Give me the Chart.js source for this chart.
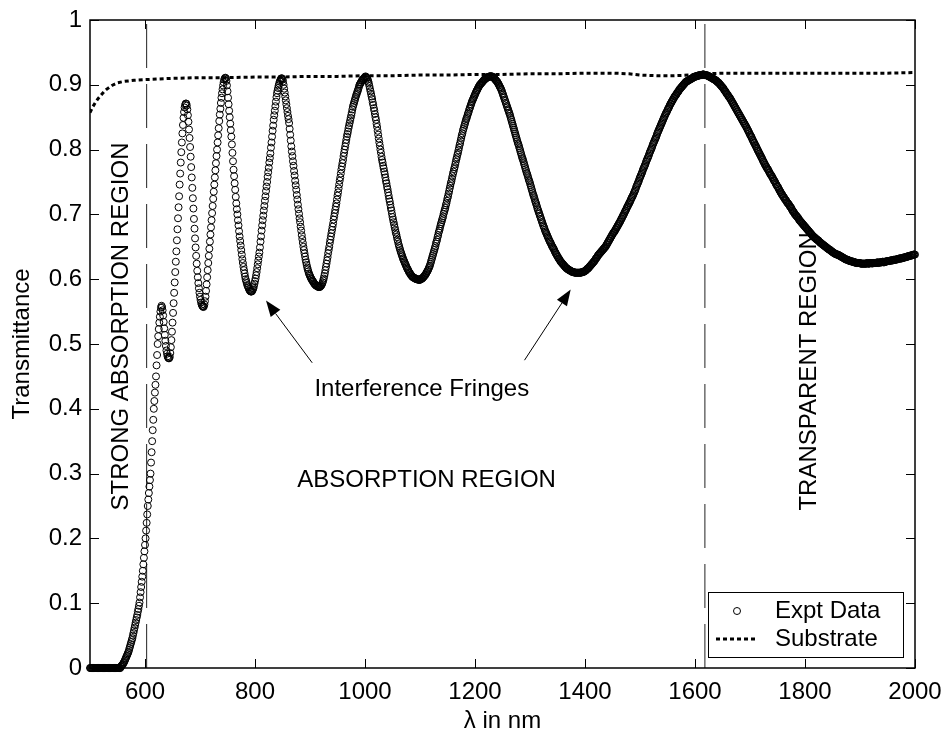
<!DOCTYPE html>
<html>
<head>
<meta charset="utf-8">
<script src="https://cdn.jsdelivr.net/npm/chart.js@4.4.1/dist/chart.umd.min.js"></script>
<style>
  html, body { margin: 0; padding: 0; background: #fff; }
  canvas { display: block; }
</style>
</head>
<body>
<canvas id="chart" width="945" height="736"></canvas>
<script>
// Measured film transmittance, one value per nm from 500 nm to 2000 nm
const START_NM = 500;
const STEP_NM = 1;
const transmittance = [
  // 500–599
  0,0,0,0,0,0,0,0,0,0,
  0,0,0,0,0,0,0,0,0,0,
  0,0,0,0,0,0,0,0,0,0,
  0,0,0,0,0,0,0,0,0,0,
  0,0,0,0,0,0,0,0,0,0,
  0,0,0,0,0,0,0.002,0.003,0.004,0.005,
  0.006,0.008,0.009,0.011,0.013,0.015,0.017,0.019,0.021,0.023,
  0.025,0.028,0.031,0.034,0.037,0.040,0.043,0.046,0.050,0.054,
  0.058,0.062,0.066,0.070,0.074,0.078,0.082,0.087,0.091,0.096,
  0.101,0.109,0.117,0.125,0.133,0.141,0.150,0.160,0.170,0.180,
  // 600–699
  0.190,0.200,0.212,0.224,0.237,0.250,0.260,0.270,0.280,0.290,
  0.300,0.317,0.333,0.350,0.367,0.383,0.400,0.412,0.425,0.437,
  0.450,0.467,0.483,0.500,0.512,0.523,0.533,0.542,0.550,0.556,
  0.559,0.557,0.552,0.544,0.534,0.524,0.514,0.505,0.497,0.490,
  0.485,0.481,0.479,0.478,0.478,0.480,0.486,0.495,0.506,0.519,
  0.533,0.548,0.563,0.579,0.595,0.611,0.627,0.643,0.660,0.677,
  0.694,0.711,0.728,0.746,0.763,0.780,0.796,0.811,0.825,0.838,
  0.849,0.858,0.865,0.869,0.871,0.871,0.868,0.862,0.853,0.843,
  0.831,0.818,0.804,0.789,0.773,0.757,0.741,0.725,0.709,0.693,
  0.678,0.663,0.649,0.636,0.624,0.613,0.603,0.594,0.586,0.579,
  // 700–799
  0.573,0.568,0.564,0.561,0.559,0.558,0.557,0.558,0.561,0.566,
  0.573,0.582,0.592,0.603,0.614,0.625,0.636,0.647,0.658,0.669,
  0.680,0.691,0.702,0.713,0.724,0.735,0.746,0.757,0.768,0.779,
  0.790,0.800,0.811,0.822,0.833,0.844,0.854,0.863,0.872,0.880,
  0.887,0.893,0.899,0.904,0.908,0.910,0.911,0.910,0.906,0.899,
  0.890,0.880,0.870,0.860,0.850,0.840,0.830,0.820,0.808,0.795,
  0.782,0.769,0.759,0.748,0.738,0.727,0.717,0.708,0.700,0.691,
  0.683,0.674,0.666,0.659,0.652,0.645,0.638,0.631,0.625,0.619,
  0.614,0.609,0.604,0.600,0.597,0.594,0.591,0.589,0.587,0.585,
  0.583,0.582,0.581,0.581,0.581,0.582,0.584,0.586,0.589,0.593,
  // 800–899
  0.597,0.601,0.606,0.611,0.617,0.623,0.629,0.635,0.641,0.649,
  0.658,0.666,0.675,0.683,0.691,0.698,0.706,0.713,0.721,0.728,
  0.736,0.743,0.750,0.758,0.765,0.772,0.780,0.787,0.794,0.803,
  0.811,0.820,0.829,0.837,0.846,0.853,0.860,0.867,0.874,0.881,
  0.887,0.891,0.895,0.899,0.902,0.905,0.907,0.909,0.910,0.910,
  0.908,0.905,0.900,0.894,0.888,0.882,0.876,0.870,0.864,0.858,
  0.852,0.847,0.841,0.832,0.823,0.814,0.805,0.797,0.790,0.782,
  0.775,0.767,0.760,0.752,0.745,0.738,0.730,0.723,0.715,0.708,
  0.701,0.694,0.688,0.681,0.675,0.668,0.662,0.656,0.650,0.645,
  0.640,0.635,0.630,0.626,0.622,0.618,0.615,0.612,0.609,0.607,
  // 900–999
  0.605,0.603,0.601,0.600,0.598,0.597,0.596,0.594,0.593,0.592,
  0.591,0.590,0.590,0.589,0.589,0.588,0.588,0.588,0.588,0.589,
  0.590,0.591,0.593,0.595,0.598,0.601,0.605,0.609,0.614,0.619,
  0.624,0.629,0.634,0.640,0.645,0.650,0.656,0.661,0.666,0.671,
  0.676,0.681,0.686,0.692,0.697,0.702,0.707,0.712,0.717,0.723,
  0.729,0.734,0.740,0.746,0.752,0.757,0.763,0.769,0.774,0.779,
  0.784,0.790,0.795,0.800,0.805,0.810,0.815,0.820,0.824,0.828,
  0.833,0.837,0.841,0.845,0.849,0.853,0.857,0.862,0.866,0.869,
  0.872,0.875,0.878,0.881,0.884,0.886,0.889,0.891,0.894,0.897,
  0.900,0.901,0.903,0.904,0.906,0.907,0.908,0.909,0.910,0.911,
  // 1000
  0.912,
  // 1001–1100
  0.913,0.912,0.911,0.910,0.908,0.905,0.902,0.898,0.894,0.890,
  0.886,0.882,0.878,0.873,0.869,0.864,0.860,0.855,0.850,0.846,
  0.840,0.835,0.829,0.823,0.817,0.811,0.806,0.800,0.795,0.789,
  0.784,0.780,0.775,0.771,0.766,0.762,0.757,0.752,0.748,0.743,
  0.739,0.734,0.729,0.724,0.720,0.715,0.710,0.706,0.701,0.696,
  0.692,0.688,0.684,0.680,0.676,0.672,0.669,0.665,0.661,0.658,
  0.654,0.651,0.648,0.645,0.642,0.640,0.637,0.635,0.632,0.630,
  0.628,0.626,0.624,0.622,0.620,0.618,0.616,0.615,0.613,0.611,
  0.610,0.609,0.607,0.606,0.605,0.604,0.603,0.603,0.602,0.602,
  0.601,0.601,0.600,0.600,0.600,0.600,0.599,0.599,0.599,0.599,
  // 1101–1200
  0.600,0.600,0.601,0.601,0.602,0.603,0.604,0.605,0.606,0.607,
  0.609,0.610,0.612,0.613,0.615,0.617,0.619,0.621,0.624,0.627,
  0.630,0.633,0.636,0.639,0.642,0.645,0.648,0.651,0.655,0.658,
  0.661,0.665,0.668,0.672,0.675,0.678,0.682,0.685,0.688,0.691,
  0.694,0.697,0.701,0.704,0.707,0.710,0.714,0.717,0.721,0.725,
  0.728,0.732,0.736,0.740,0.744,0.748,0.751,0.755,0.759,0.763,
  0.766,0.770,0.773,0.777,0.781,0.785,0.788,0.792,0.795,0.799,
  0.803,0.807,0.810,0.814,0.818,0.822,0.825,0.829,0.832,0.835,
  0.838,0.841,0.844,0.847,0.849,0.852,0.855,0.857,0.860,0.863,
  0.865,0.868,0.870,0.873,0.875,0.877,0.879,0.881,0.883,0.885,
  // 1201–1300
  0.887,0.889,0.891,0.892,0.894,0.896,0.897,0.899,0.900,0.901,
  0.902,0.903,0.904,0.905,0.906,0.907,0.908,0.909,0.909,0.910,
  0.911,0.911,0.912,0.912,0.912,0.913,0.913,0.913,0.913,0.913,
  0.913,0.912,0.912,0.911,0.910,0.909,0.908,0.907,0.906,0.905,
  0.904,0.902,0.901,0.899,0.897,0.896,0.894,0.892,0.890,0.887,
  0.885,0.882,0.880,0.877,0.875,0.872,0.870,0.867,0.865,0.862,
  0.860,0.857,0.855,0.852,0.849,0.846,0.843,0.840,0.837,0.834,
  0.831,0.828,0.825,0.822,0.819,0.816,0.813,0.810,0.808,0.805,
  0.802,0.799,0.796,0.793,0.790,0.787,0.785,0.782,0.779,0.776,
  0.773,0.770,0.767,0.764,0.762,0.759,0.756,0.753,0.751,0.748,
  // 1301–1400
  0.745,0.742,0.739,0.736,0.733,0.730,0.728,0.725,0.722,0.719,
  0.717,0.714,0.711,0.708,0.706,0.703,0.701,0.698,0.696,0.693,
  0.691,0.688,0.686,0.683,0.681,0.679,0.676,0.674,0.672,0.670,
  0.668,0.666,0.664,0.662,0.660,0.658,0.657,0.655,0.653,0.651,
  0.650,0.648,0.647,0.645,0.643,0.641,0.640,0.638,0.637,0.635,
  0.634,0.632,0.631,0.630,0.628,0.627,0.626,0.625,0.624,0.623,
  0.622,0.621,0.620,0.619,0.618,0.617,0.617,0.616,0.615,0.615,
  0.614,0.614,0.613,0.613,0.612,0.612,0.611,0.611,0.611,0.611,
  0.610,0.610,0.610,0.610,0.610,0.610,0.610,0.610,0.610,0.610,
  0.610,0.610,0.610,0.611,0.611,0.611,0.611,0.612,0.612,0.613,
  // 1401–1500
  0.613,0.614,0.615,0.616,0.616,0.617,0.618,0.619,0.620,0.621,
  0.622,0.623,0.624,0.625,0.626,0.627,0.628,0.629,0.631,0.632,
  0.633,0.634,0.636,0.637,0.638,0.639,0.640,0.641,0.642,0.643,
  0.644,0.645,0.646,0.647,0.648,0.649,0.650,0.651,0.653,0.654,
  0.656,0.657,0.659,0.660,0.662,0.663,0.665,0.666,0.668,0.669,
  0.671,0.672,0.673,0.674,0.676,0.677,0.679,0.680,0.682,0.683,
  0.685,0.686,0.688,0.689,0.691,0.693,0.694,0.696,0.698,0.699,
  0.701,0.703,0.705,0.706,0.708,0.710,0.712,0.713,0.715,0.717,
  0.718,0.720,0.722,0.724,0.726,0.727,0.729,0.731,0.733,0.735,
  0.737,0.739,0.742,0.744,0.746,0.748,0.750,0.752,0.755,0.757,
  // 1501–1600
  0.759,0.761,0.763,0.765,0.768,0.770,0.772,0.774,0.776,0.778,
  0.781,0.783,0.785,0.787,0.789,0.791,0.794,0.796,0.798,0.800,
  0.802,0.804,0.807,0.809,0.811,0.813,0.815,0.817,0.819,0.821,
  0.824,0.826,0.828,0.830,0.832,0.834,0.836,0.838,0.840,0.842,
  0.844,0.846,0.848,0.850,0.852,0.854,0.856,0.857,0.859,0.861,
  0.863,0.864,0.866,0.868,0.870,0.871,0.873,0.874,0.876,0.877,
  0.879,0.880,0.882,0.883,0.884,0.885,0.887,0.888,0.889,0.890,
  0.892,0.893,0.894,0.895,0.896,0.897,0.898,0.899,0.900,0.901,
  0.902,0.903,0.904,0.905,0.905,0.906,0.906,0.907,0.907,0.908,
  0.908,0.909,0.909,0.910,0.910,0.911,0.911,0.912,0.912,0.913,
  // 1601–1700
  0.913,0.913,0.913,0.914,0.914,0.914,0.914,0.915,0.915,0.915,
  0.915,0.915,0.915,0.916,0.916,0.916,0.915,0.915,0.915,0.915,
  0.915,0.914,0.914,0.914,0.913,0.913,0.912,0.912,0.911,0.911,
  0.910,0.910,0.909,0.909,0.908,0.908,0.907,0.907,0.906,0.905,
  0.904,0.904,0.903,0.902,0.901,0.900,0.899,0.898,0.897,0.896,
  0.895,0.894,0.892,0.891,0.890,0.889,0.887,0.886,0.885,0.884,
  0.882,0.881,0.880,0.879,0.877,0.876,0.874,0.873,0.871,0.870,
  0.868,0.867,0.865,0.864,0.862,0.861,0.859,0.858,0.856,0.855,
  0.853,0.852,0.850,0.849,0.847,0.846,0.844,0.843,0.841,0.840,
  0.838,0.837,0.835,0.834,0.832,0.830,0.829,0.827,0.825,0.823,
  // 1701–1800
  0.822,0.820,0.819,0.816,0.815,0.813,0.811,0.810,0.808,0.806,
  0.805,0.803,0.801,0.799,0.798,0.796,0.794,0.793,0.791,0.789,
  0.788,0.786,0.784,0.782,0.781,0.779,0.777,0.776,0.774,0.773,
  0.771,0.770,0.769,0.767,0.765,0.764,0.762,0.761,0.760,0.758,
  0.757,0.755,0.753,0.752,0.751,0.749,0.747,0.746,0.744,0.743,
  0.742,0.740,0.738,0.737,0.735,0.734,0.732,0.731,0.730,0.728,
  0.727,0.726,0.724,0.723,0.722,0.721,0.719,0.718,0.717,0.716,
  0.715,0.713,0.712,0.711,0.710,0.708,0.706,0.705,0.704,0.703,
  0.701,0.700,0.699,0.698,0.697,0.696,0.695,0.694,0.692,0.691,
  0.690,0.689,0.688,0.687,0.686,0.685,0.684,0.683,0.682,0.681,
  // 1801–1900
  0.680,0.679,0.678,0.677,0.676,0.675,0.674,0.673,0.672,0.671,
  0.670,0.669,0.668,0.667,0.666,0.665,0.665,0.664,0.663,0.662,
  0.662,0.661,0.660,0.660,0.659,0.658,0.657,0.656,0.656,0.655,
  0.654,0.654,0.653,0.652,0.652,0.651,0.650,0.650,0.649,0.648,
  0.648,0.647,0.646,0.646,0.645,0.645,0.644,0.643,0.643,0.642,
  0.641,0.641,0.640,0.640,0.639,0.639,0.638,0.638,0.638,0.638,
  0.637,0.637,0.636,0.636,0.635,0.635,0.634,0.634,0.633,0.633,
  0.632,0.632,0.631,0.631,0.630,0.630,0.630,0.630,0.629,0.629,
  0.628,0.628,0.628,0.628,0.627,0.627,0.627,0.627,0.626,0.626,
  0.626,0.626,0.625,0.625,0.625,0.625,0.625,0.625,0.625,0.625,
  // 1901–2000
  0.624,0.624,0.624,0.624,0.624,0.624,0.624,0.624,0.624,0.624,
  0.624,0.624,0.625,0.625,0.624,0.624,0.624,0.625,0.625,0.625,
  0.625,0.624,0.625,0.625,0.625,0.625,0.625,0.625,0.625,0.625,
  0.626,0.626,0.625,0.625,0.626,0.626,0.626,0.626,0.626,0.626,
  0.627,0.627,0.626,0.626,0.627,0.627,0.627,0.627,0.628,0.628,
  0.628,0.628,0.628,0.628,0.629,0.629,0.629,0.629,0.629,0.629,
  0.630,0.630,0.630,0.630,0.630,0.630,0.631,0.631,0.631,0.631,
  0.632,0.632,0.632,0.632,0.632,0.632,0.633,0.633,0.633,0.633,
  0.634,0.634,0.634,0.634,0.635,0.635,0.635,0.635,0.636,0.636,
  0.636,0.636,0.637,0.637,0.637,0.637,0.638,0.638,0.638,0.638
];

// Bare substrate transmittance
const substrateNm = [500,505,510,515,520,525,530,535,540,545,550,560,570,580,600,650,700,750,800,850,900,950,1000,1050,1100,1150,1200,1250,1300,1350,1400,1450,1480,1500,1530,1560,1590,1620,1650,1700,1800,1900,1950,2000];
const substrateT  = [0.857,0.866,0.873,0.879,0.884,0.889,0.893,0.896,0.899,0.901,0.903,0.905,0.906,0.907,0.908,0.910,0.911,0.911,0.912,0.912,0.913,0.913,0.914,0.914,0.915,0.915,0.916,0.916,0.917,0.917,0.918,0.918,0.917,0.915,0.914,0.914,0.915,0.917,0.918,0.918,0.918,0.918,0.918,0.919];

// Region boundaries (nm)
const boundaryNm = [603, 1618];

// Axis ticks
const xTicks = [600, 800, 1000, 1200, 1400, 1600, 1800, 2000];
const yTicks = [0, 0.1, 0.2, 0.3, 0.4, 0.5, 0.6, 0.7, 0.8, 0.9, 1];

// ---- point tables for Chart.js ----
const exptPoints = transmittance.map((t, i) => ({ x: START_NM + i * STEP_NM, y: t }));
const substratePoints = substrateNm.map((nm, i) => ({ x: nm, y: substrateT[i] }));

const FONT_FAMILY = '"Liberation Sans", Arial, Helvetica, sans-serif';
const FONT_SIZE = 24;
const font = { family: FONT_FAMILY, size: FONT_SIZE };

// Text annotations, placed in data coordinates
const labels = [
  { text: 'Interference Fringes', x: 908, y: 0.43, align: 'left', rot: 0 },
  { text: 'ABSORPTION REGION', x: 1112, y: 0.29, align: 'center', rot: 0 },
  { text: 'STRONG ABSORPTION REGION', x: 557, y: 0.243, align: 'left', rot: -Math.PI / 2 },
  { text: 'TRANSPARENT REGION', x: 1808, y: 0.243, align: 'left', rot: -Math.PI / 2 }
];
const arrows = [
  { from: [904, 0.471], to: [820, 0.567] },
  { from: [1290, 0.475], to: [1374, 0.584] }
];

const datasets = [
  {
    label: 'Expt Data',
    data: exptPoints,
    showLine: false,
    pointStyle: 'circle',
    pointRadius: 3.5,
    pointBorderWidth: 1,
    pointBorderColor: '#000',
    pointBackgroundColor: 'rgba(0,0,0,0)',
    borderColor: '#000',
    clip: false,
    order: 1
  },
  {
    label: 'Substrate',
    data: substratePoints,
    borderColor: '#000',
    borderWidth: 3,
    borderDash: [4, 3],
    pointRadius: 0,
    tension: 0,
    order: 0
  }
];
boundaryNm.forEach(nm => {
  datasets.push({
    label: 'boundary',
    data: [{ x: nm, y: 0 }, { x: nm, y: 1 }],
    borderColor: '#222',
    borderWidth: 1,
    borderDash: [44, 16],
    pointRadius: 0,
    order: 2
  });
});

const decorations = {
  id: 'decorations',
  beforeDatasetsDraw(chart) {
    const { ctx, scales: { x, y } } = chart;
    ctx.save();
    ctx.fillStyle = '#000';
    ctx.strokeStyle = '#000';
    ctx.font = FONT_SIZE + 'px ' + FONT_FAMILY;
    ctx.textBaseline = 'middle';
    labels.forEach(l => {
      ctx.save();
      ctx.translate(x.getPixelForValue(l.x), y.getPixelForValue(l.y));
      ctx.rotate(l.rot);
      ctx.textAlign = l.align;
      ctx.fillText(l.text, 0, 0);
      ctx.restore();
    });
    // arrows pointing at the fringes
    ctx.lineWidth = 1;
    arrows.forEach(a => {
      const x0 = x.getPixelForValue(a.from[0]), y0 = y.getPixelForValue(a.from[1]);
      const x1 = x.getPixelForValue(a.to[0]), y1 = y.getPixelForValue(a.to[1]);
      const ang = Math.atan2(y1 - y0, x1 - x0);
      const hl = 16, hw = 6;
      const bx = x1 - hl * Math.cos(ang), by = y1 - hl * Math.sin(ang);
      ctx.beginPath();
      ctx.moveTo(x0, y0);
      ctx.lineTo(bx, by);
      ctx.stroke();
      ctx.beginPath();
      ctx.moveTo(x1, y1);
      ctx.lineTo(bx + hw * Math.sin(ang), by - hw * Math.cos(ang));
      ctx.lineTo(bx - hw * Math.sin(ang), by + hw * Math.cos(ang));
      ctx.closePath();
      ctx.fill();
    });
    ctx.restore();
  },
  afterDatasetsDraw(chart) {
    const { ctx, chartArea: a, scales: { x, y } } = chart;
    ctx.save();
    ctx.strokeStyle = '#000';
    // inward tick marks on all four sides
    const TL = 9;
    ctx.lineWidth = 1;
    ctx.beginPath();
    xTicks.forEach(v => {
      const px = Math.round(x.getPixelForValue(v)) + 0.5;
      ctx.moveTo(px, a.bottom); ctx.lineTo(px, a.bottom - TL);
      ctx.moveTo(px, a.top); ctx.lineTo(px, a.top + TL);
    });
    yTicks.forEach(v => {
      const py = Math.round(y.getPixelForValue(v)) + 0.5;
      ctx.moveTo(a.left, py); ctx.lineTo(a.left + TL, py);
      ctx.moveTo(a.right, py); ctx.lineTo(a.right - TL, py);
    });
    ctx.stroke();
    // axes box
    ctx.lineWidth = 1.5;
    ctx.strokeRect(a.left, a.top, a.right - a.left, a.bottom - a.top);

    // legend
    const bw = 195, bh = 65;
    const bx = a.right - 12 - bw, by = a.bottom - 11 - bh;
    ctx.fillStyle = '#fff';
    ctx.fillRect(bx, by, bw, bh);
    ctx.lineWidth = 1;
    ctx.strokeRect(bx + 0.5, by + 0.5, bw, bh);
    const rowY = [by + 19, by + 47];
    const sx0 = bx + 8, sx1 = bx + 50, tx = bx + 67;
    const d0 = chart.data.datasets[0], d1 = chart.data.datasets[1];
    ctx.strokeStyle = d0.pointBorderColor;
    ctx.lineWidth = d0.pointBorderWidth;
    ctx.beginPath();
    ctx.arc((sx0 + sx1) / 2, rowY[0], d0.pointRadius, 0, Math.PI * 2);
    ctx.stroke();
    ctx.strokeStyle = d1.borderColor;
    ctx.lineWidth = d1.borderWidth;
    ctx.setLineDash(d1.borderDash);
    ctx.beginPath();
    ctx.moveTo(sx0, rowY[1]); ctx.lineTo(sx1, rowY[1]);
    ctx.stroke();
    ctx.setLineDash([]);
    ctx.fillStyle = '#000';
    ctx.font = FONT_SIZE + 'px ' + FONT_FAMILY;
    ctx.textAlign = 'left';
    ctx.textBaseline = 'middle';
    ctx.fillText(d0.label, tx, rowY[0]);
    ctx.fillText(d1.label, tx, rowY[1]);
    ctx.restore();
  }
};

new Chart(document.getElementById('chart'), {
  type: 'line',
  data: { datasets },
  options: {
    responsive: false,
    animation: false,
    devicePixelRatio: 1,
    normalized: true,
    layout: { padding: { left: 0, right: 30, top: 20, bottom: 0 } },
    plugins: { legend: { display: false }, tooltip: { enabled: false } },
    scales: {
      x: {
        type: 'linear',
        min: 500,
        max: 2000,
        afterBuildTicks: s => { s.ticks = xTicks.map(v => ({ value: v })); },
        afterFit: s => { s.height = 68; s.paddingLeft = 0; s.paddingRight = 0; },
        grid: { display: false, drawTicks: false },
        border: { display: false },
        ticks: { font, color: '#000', padding: 10, maxRotation: 0, autoSkip: false, callback: v => String(v) },
        title: { display: true, text: 'λ in nm', font, color: '#000', padding: { top: 0, bottom: 0 } }
      },
      y: {
        type: 'linear',
        min: 0,
        max: 1,
        afterBuildTicks: s => { s.ticks = yTicks.map(v => ({ value: v })); },
        afterFit: s => { s.width = 90; s.paddingTop = 0; s.paddingBottom = 0; },
        grid: { display: false, drawTicks: false },
        border: { display: false },
        ticks: { font, color: '#000', padding: 8, autoSkip: false, callback: v => String(+v.toFixed(1)) },
        title: { display: true, text: 'Transmittance', font, color: '#000', padding: { top: 8, bottom: 0 } }
      }
    }
  },
  plugins: [decorations]
});
</script>
</body>
</html>
